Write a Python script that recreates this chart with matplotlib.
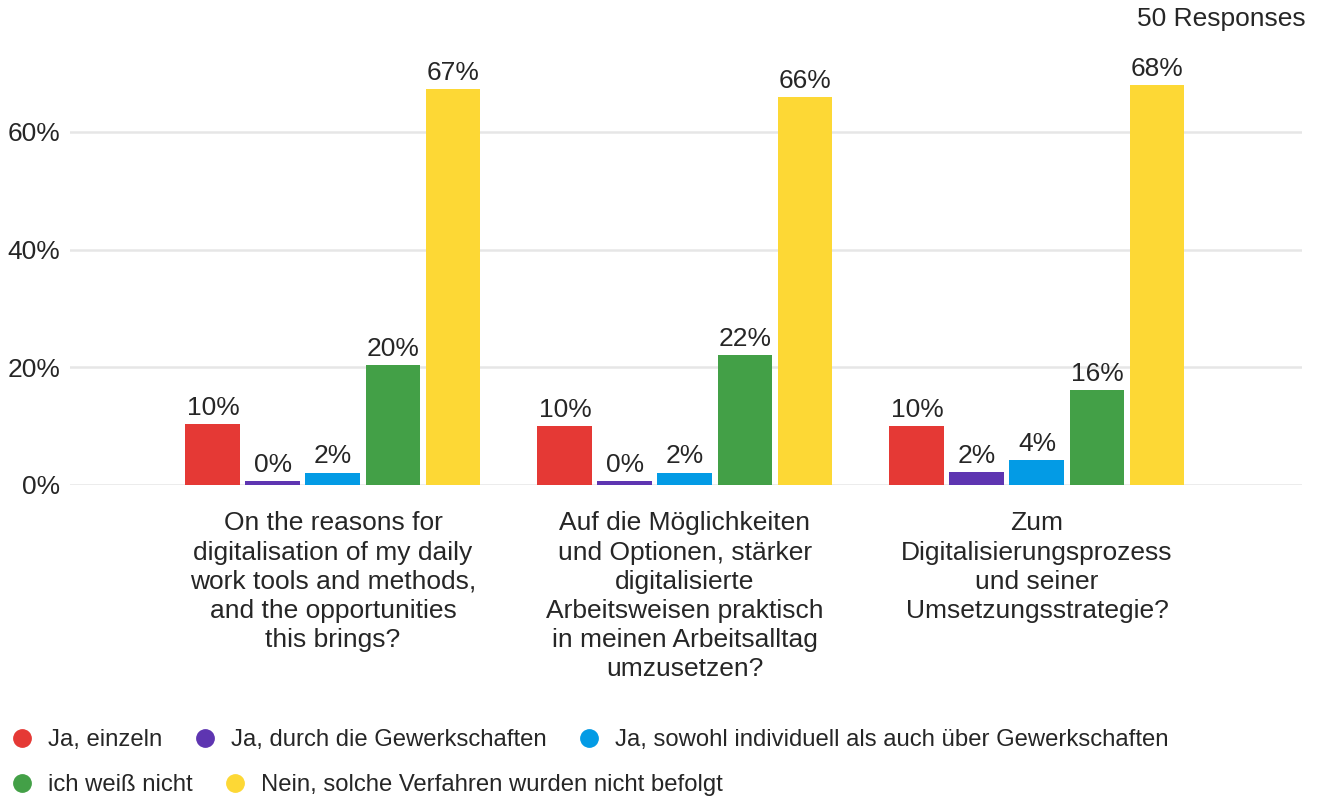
import numpy as np
import matplotlib
matplotlib.use('Agg')
import matplotlib.pyplot as plt
from matplotlib.lines import Line2D

plt.rcParams['font.family'] = ['Liberation Sans', 'DejaVu Sans']

# Daten
questions = [
    'On the reasons for\ndigitalisation of my daily\nwork tools and methods,\nand the opportunities\nthis brings?',
    'Auf die Möglichkeiten\nund Optionen, stärker\ndigitalisierte\nArbeitsweisen praktisch\nin meinen Arbeitsalltag\numzusetzen?',
    'Zum\nDigitalisierungsprozess\nund seiner\nUmsetzungsstrategie?',
]
answers = ['Ja, einzeln', 'Ja, durch die Gewerkschaften',
           'Ja, sowohl individuell als auch über Gewerkschaften',
           'ich weiß nicht', 'Nein, solche Verfahren wurden nicht befolgt']
ja_einzeln = [10.3, 10.0, 10.0]
ja_gewerkschaften = [0, 0, 2.2]
ja_beides = [2.1, 2.1, 4.2]
weiss_nicht = [20.4, 22.1, 16.1]
nein = [67.2, 65.9, 67.9]
colors = ['#e53935', '#5e35b1', '#039be5', '#43a047', '#fdd835']

series = [ja_einzeln, ja_gewerkschaften, ja_beides, weiss_nicht, nein]
txt = '#262626'

fig = plt.figure(figsize=(13.24, 8), dpi=100)
ax = fig.add_axes([70 / 1324, 315 / 800, 1232 / 1324, 425 / 800])

x = np.arange(len(questions))
step = 0.1705
w = 0.156
for i, (vals, c) in enumerate(zip(series, colors)):
    h = [max(v, 0.7) for v in vals]  # 0 wird als schmaler Strich gezeigt
    bars = ax.bar(x + (i - 2) * step, h, width=w, color=c, zorder=3)
    ax.bar_label(bars, labels=[f'{round(v)}%' for v in vals], padding=3,
                 fontsize=19, color=txt)

ax.set_xlim(-0.747, 2.753)
ax.set_ylim(0, 72.2)
ax.set_yticks([0, 20, 40, 60])
ax.set_yticklabels(['0%', '20%', '40%', '60%'])
ax.set_xticks(x)
ax.set_xticklabels(questions, linespacing=1.27)
ax.tick_params(axis='x', length=0, pad=19, labelsize=19, labelcolor=txt)
ax.tick_params(axis='y', length=0, pad=7, labelsize=19, labelcolor=txt)
ax.grid(axis='y', color='#e6e6e6', linewidth=1.8, zorder=0)
for s in ax.spines.values():
    s.set_visible(False)

fig.text(1306 / 1324, 1 - 19 / 800, '50 Responses', ha='right', va='center',
         fontsize=19, color=txt)

handles = [Line2D([], [], marker='o', linestyle='', markersize=12.5,
                  color=c) for c in colors]
leg_kw = dict(frameon=False, fontsize=17.2, handlelength=0.75,
              handletextpad=0.71, columnspacing=1.42, borderpad=0,
              borderaxespad=0, loc='center left', labelcolor=txt)
fig.legend(handles[:3], answers[:3], ncol=3,
           bbox_to_anchor=(13 / 1324, 1 - 740 / 800), **leg_kw)
fig.legend(handles[3:], answers[3:], ncol=2,
           bbox_to_anchor=(13 / 1324, 1 - 785 / 800), **leg_kw)

plt.savefig('out.png', dpi=100)
